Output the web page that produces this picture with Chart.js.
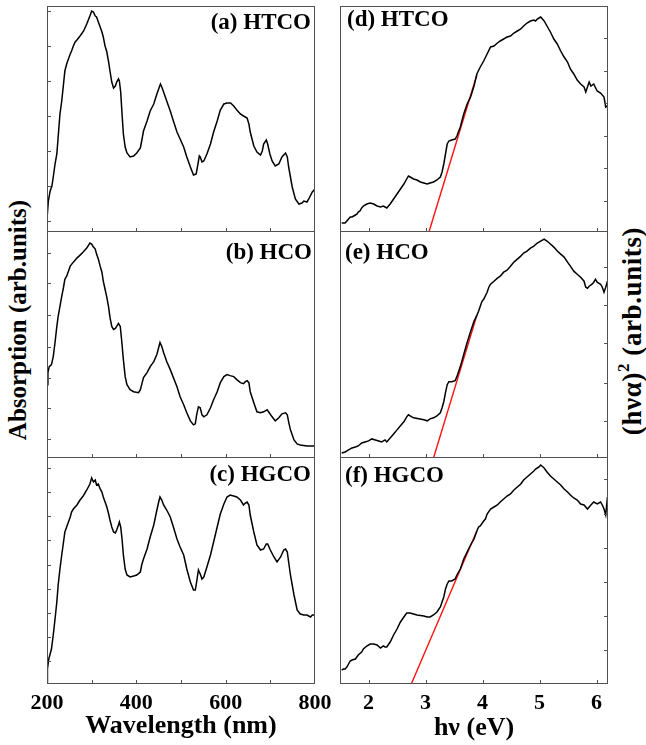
<!DOCTYPE html>
<html>
<head>
<meta charset="utf-8">
<script src="https://cdn.jsdelivr.net/npm/chart.js@4.4.0/dist/chart.umd.min.js"></script>
<style>
  body { margin: 0; background: #fff; }
  #wrap { position: relative; width: 646px; height: 745px; overflow: hidden; background: #fff; }
  #wrap canvas { position: absolute; left: 0; top: 0; }
  .yt {
    position: absolute;
    font: bold 25px "Liberation Serif", "Times New Roman", serif;
    white-space: nowrap;
    color: #000;
    transform: translate(-50%, -50%) rotate(-90deg);
  }
  .yt sup { font-size: 62%; vertical-align: 0.7em; line-height: 0; }
</style>
</head>
<body>
<div id="wrap">
  <div class="yt" style="left:18px; top:320px;">Absorption (arb.units)</div>
  <div class="yt" style="left:632px; top:331px; font-size:27px; letter-spacing:0.6px;">(hνα)<sup>2</sup> (arb.units)</div>
  <canvas id="pa" width="646" height="745"></canvas>
  <canvas id="pb" width="646" height="745"></canvas>
  <canvas id="pc" width="646" height="745"></canvas>
  <canvas id="pd" width="646" height="745"></canvas>
  <canvas id="pe" width="646" height="745"></canvas>
  <canvas id="pf" width="646" height="745"></canvas>
</div>
<script>
// ---- data (y in arbitrary units) ----
const wlA = [200,203,207,211,214,218,222,225,229,233,237,240,244,248,252,255,259,263,267,274,282,289,296,300,304,308,311,315,319,323,326,330,334,338,341,345,349,353,356,360,362,365,368,371,375,379,386,394,401,409,412,416,424,431,439,446,454,457,461,468,476,483,491,498,506,513,521,528,534,538,541,543,547,551,558,566,573,581,588,596,603,611,618,625,633,640,648,652,655,663,670,678,682,685,691,694,699,704,711,719,726,734,738,741,745,749,756,764,771,775,782,786,794,800];
const absA = [13,31,41,46,55,68,78,95,118,131,148,161,168,173,178,181,186,190,192,196,201,208,216,221,220,216,215,210,205,200,195,186,180,170,161,150,144,146,150,153,151,140,118,98,85,79,75,76,79,84,91,101,111,121,128,138,148,145,140,131,121,111,100,93,85,75,65,57,58,68,76,75,70,71,78,88,100,111,122,128,129,129,126,122,118,116,114,108,100,86,80,77,81,88,92,88,78,71,66,68,75,79,75,65,55,45,33,28,29,31,30,33,40,43];

const wlB = [200,202,205,210,214,218,222,225,229,233,237,240,244,248,252,259,267,274,281,289,296,300,304,308,311,315,319,323,326,330,334,338,341,345,349,353,356,360,364,367,371,375,379,386,394,405,409,412,416,424,431,439,446,450,453,457,461,468,476,483,491,498,506,513,521,528,532,535,539,543,547,551,558,566,573,581,588,596,603,610,618,625,633,640,644,648,652,655,663,670,678,685,693,696,704,711,719,726,734,738,741,745,753,760,767,782,800];
const absB = [73,85,91,93,101,115,131,141,151,161,170,178,181,186,191,195,199,202,205,209,214,213,210,208,203,198,191,185,176,168,160,150,140,131,128,129,131,134,131,118,98,81,73,68,66,65,68,73,80,85,91,96,103,110,115,111,105,96,88,80,71,61,53,45,37,33,34,43,51,50,43,41,43,50,58,66,75,81,83,82,81,78,75,74,76,77,75,66,55,46,45,46,48,46,41,37,40,44,45,43,36,28,18,14,13,12,12];

const wlC = [200,201,204,207,210,214,218,222,225,229,233,237,240,244,248,252,255,259,267,274,281,289,296,300,304,308,311,315,319,323,326,330,334,338,341,345,349,353,356,360,362,365,368,371,375,379,386,394,401,409,412,416,424,431,439,446,450,453,457,461,468,476,483,491,498,506,513,521,528,532,535,539,543,547,551,558,566,573,581,588,596,603,610,618,625,633,640,644,648,652,655,663,670,678,685,691,694,700,708,715,723,730,734,738,741,745,753,760,767,775,782,790,794,800];
const absC = [2,15,25,30,35,49,65,82,99,115,129,142,152,157,162,167,172,175,179,184,188,194,200,206,202,204,199,200,195,192,187,182,177,170,164,157,152,151,154,159,162,157,145,129,115,109,107,108,109,112,119,125,135,147,159,174,182,187,184,179,174,167,157,145,137,129,115,102,94,94,102,114,110,105,107,117,129,142,157,170,180,187,189,188,187,184,179,181,182,179,169,152,139,134,135,140,140,134,127,122,127,134,135,132,122,109,89,74,70,69,69,67,69,69];

const evD = [1.53,1.56,1.59,1.62,1.65,1.68,1.71,1.74,1.77,1.80,1.82,1.85,1.88,1.91,1.97,2.03,2.09,2.15,2.21,2.26,2.29,2.32,2.38,2.44,2.50,2.56,2.62,2.67,2.70,2.73,2.79,2.85,2.91,2.97,3.03,3.08,3.14,3.20,3.26,3.29,3.32,3.35,3.38,3.41,3.46,3.52,3.55,3.61,3.67,3.73,3.79,3.85,3.90,3.96,4.02,4.08,4.14,4.20,4.26,4.31,4.37,4.43,4.49,4.55,4.61,4.67,4.72,4.78,4.84,4.90,4.93,4.96,4.99,5.02,5.05,5.08,5.13,5.19,5.25,5.31,5.37,5.43,5.49,5.54,5.60,5.66,5.72,5.78,5.81,5.84,5.87,5.90,5.95,6.01,6.07,6.13,6.16,6.19];
const taucD = [9,9,9,11,13,15,15,16,17,18,20,21,24,26,28,29,28,26,25,26,25,24,28,33,38,43,48,53,56,55,53,52,50,49,48,49,50,52,55,60,68,78,88,91,92,93,96,105,118,128,135,146,158,165,171,178,185,186,189,191,193,195,196,199,201,203,206,209,211,212,211,213,214,215,213,211,206,200,193,188,181,175,170,163,158,152,148,145,140,145,150,146,148,141,139,135,125,126];

const evE = [1.53,1.59,1.65,1.71,1.77,1.82,1.88,1.94,2.00,2.06,2.12,2.18,2.23,2.29,2.32,2.38,2.44,2.50,2.56,2.62,2.67,2.70,2.73,2.79,2.88,2.97,3.03,3.08,3.14,3.20,3.26,3.29,3.32,3.35,3.38,3.41,3.46,3.52,3.55,3.61,3.67,3.73,3.79,3.85,3.90,3.93,3.96,3.99,4.02,4.08,4.11,4.14,4.20,4.26,4.31,4.37,4.43,4.49,4.55,4.61,4.67,4.72,4.78,4.84,4.90,4.96,5.02,5.08,5.13,5.19,5.25,5.31,5.37,5.43,5.49,5.54,5.60,5.66,5.72,5.78,5.81,5.84,5.87,5.92,5.95,5.98,6.01,6.07,6.10,6.13,6.16,6.19];
const taucE = [5,6,8,10,11,12,15,16,17,19,18,17,16,18,16,20,24,28,32,36,41,43,42,40,39,38,37,39,40,42,45,50,56,65,73,76,76,77,81,91,103,115,126,136,142,146,151,156,158,165,170,173,176,179,181,185,187,191,195,198,201,204,206,209,211,214,216,218,216,213,210,206,203,200,195,191,186,183,180,176,170,169,171,173,175,178,175,173,170,165,170,176];

const evF = [1.53,1.56,1.59,1.62,1.65,1.68,1.71,1.77,1.82,1.88,1.91,1.97,2.03,2.09,2.15,2.21,2.26,2.29,2.32,2.38,2.44,2.50,2.56,2.62,2.67,2.73,2.79,2.85,2.97,3.03,3.08,3.14,3.20,3.26,3.32,3.35,3.38,3.41,3.46,3.52,3.55,3.61,3.67,3.73,3.79,3.85,3.90,3.93,3.96,4.02,4.05,4.08,4.14,4.20,4.26,4.31,4.37,4.43,4.49,4.55,4.61,4.67,4.72,4.78,4.84,4.90,4.93,4.96,4.99,5.02,5.08,5.13,5.19,5.25,5.31,5.37,5.43,5.49,5.54,5.60,5.66,5.72,5.78,5.84,5.90,5.95,6.01,6.07,6.10,6.13,6.16,6.19];
const taucF = [14,15,15,17,20,23,24,25,29,32,35,38,40,40,39,36,38,37,37,42,49,55,62,67,71,71,70,69,68,67,67,69,72,77,87,95,100,103,103,105,109,115,125,132,139,145,153,157,158,163,165,170,175,177,179,182,185,188,190,194,197,200,204,207,210,213,215,216,217,219,216,212,208,205,202,199,195,192,189,186,184,180,179,175,179,182,180,182,179,175,169,187];

// linear band-gap fits (red lines)
const fitDx = [3.06, 3.90], fitDy = [0, 157];
const fitEx = [3.14, 3.90], fitEy = [0, 142];
const fitFx = [2.75, 3.90], fitFy = [0, 153];

// ticks
const wlTicks = [200, 300, 400, 500, 600, 700, 800];
const wlLabels = [200, 400, 600, 800];
const evTicks = [2, 3, 4, 5, 6];
const yTicksA = [11, 46, 81, 116, 151, 186, 221];
const yTicksB = [19, 50, 80, 111, 142, 174, 204];
const yTicksC = [23, 47, 71, 95, 119, 144, 168, 192, 216];
const yTicksD = [31, 64, 96, 129, 161, 194];
const yTicksE = [37, 75, 114, 152, 190];
const yTicksF = [34, 68, 102, 136, 170, 205];

const FONT = '"Liberation Serif", "Times New Roman", serif';
Chart.defaults.font.family = FONT;

// frame, inward ticks and panel label
function framePlugin(label, side, labelDx, labelDy) {
    return {
        id: 'frame',
        afterDraw(chart) {
            const {ctx, chartArea: {left, right, top, bottom}, scales: {x, y}} = chart;
            ctx.save();
            ctx.strokeStyle = '#505050';
            ctx.lineWidth = 1;
            ctx.strokeRect(left + 0.5, top + 0.5, right - left - 1, bottom - top - 1);
            ctx.beginPath();
            x.ticks.forEach(t => {
                const px = Math.round(x.getPixelForValue(t.value)) + 0.5;
                if (px < left + 2 || px > right - 2) return;
                ctx.moveTo(px, bottom);
                ctx.lineTo(px, bottom - 4);
            });
            y.ticks.forEach(t => {
                const py = Math.round(y.getPixelForValue(t.value)) + 0.5;
                if (side === 'left') {
                    ctx.moveTo(left, py);
                    ctx.lineTo(left + 4, py);
                } else {
                    ctx.moveTo(right, py);
                    ctx.lineTo(right - 4, py);
                }
            });
            ctx.stroke();

            ctx.fillStyle = '#000';
            ctx.font = 'bold 23px ' + FONT;
            ctx.textBaseline = 'middle';
            if (side === 'left') {
                ctx.textAlign = 'right';
                ctx.fillText(label, right - labelDx, top + labelDy);
            } else {
                ctx.textAlign = 'left';
                ctx.fillText(label, left + labelDx, top + labelDy);
            }
            ctx.restore();
        }
    };
}

function makePanel(p) {
    const datasets = [{
        data: p.x.map((v, i) => ({x: v, y: p.y[i]})),
        borderColor: '#000',
        borderWidth: 1.5,
        pointRadius: 0,
        tension: 0
    }];
    if (p.fitX) {
        datasets.push({
            data: p.fitX.map((v, i) => ({x: v, y: p.fitY[i]})),
            borderColor: '#ff1010',
            borderWidth: 1.4,
            pointRadius: 0
        });
    }
    const axisH = p.xTitle ? p.axisH : 0;

    new Chart(document.getElementById(p.id), {
        type: 'line',
        data: {datasets},
        options: {
            responsive: false,
            animation: false,
            events: [],
            devicePixelRatio: 1,
            layout: {
                padding: {left: p.box[0], top: p.box[1], right: 646 - p.box[2], bottom: 745 - p.box[3] - axisH}
            },
            plugins: {
                legend: {display: false},
                tooltip: {enabled: false}
            },
            scales: {
                x: {
                    type: 'linear',
                    min: p.xMin,
                    max: p.xMax,
                    afterBuildTicks: s => { s.ticks = p.xTicks.map(v => ({value: v})); },
                    afterFit: s => { s.height = axisH; },
                    grid: {display: false},
                    border: {display: false},
                    ticks: {
                        display: !!p.xTitle,
                        color: '#000',
                        padding: -2,
                        maxRotation: 0,
                        font: {size: 22, weight: 'bold'},
                        callback: v => p.xLabels.includes(v) ? String(v) : ''
                    },
                    title: {
                        display: !!p.xTitle,
                        text: p.xTitle || '',
                        color: '#000',
                        padding: {top: 0, bottom: 0},
                        font: {size: 26, weight: 'bold'}
                    }
                },
                y: {
                    type: 'linear',
                    position: p.side,
                    min: 0,
                    max: p.yMax,
                    afterBuildTicks: s => { s.ticks = p.yTicks.map(v => ({value: v})); },
                    afterFit: s => { s.width = 0; },
                    grid: {display: false},
                    border: {display: false},
                    ticks: {display: false}
                }
            }
        },
        plugins: [framePlugin(p.label, p.side, p.labelDx, p.labelDy)]
    });
}

makePanel({id: 'pa', box: [47, 6, 315, 232], x: wlA, y: absA, xMin: 200, xMax: 800, yMax: 226,
    xTicks: wlTicks, xLabels: wlLabels, yTicks: yTicksA, side: 'left', label: '(a) HTCO', labelDx: 4, labelDy: 17});
makePanel({id: 'pb', box: [47, 231, 315, 458], x: wlB, y: absB, xMin: 200, xMax: 800, yMax: 226,
    xTicks: wlTicks, xLabels: wlLabels, yTicks: yTicksB, side: 'left', label: '(b) HCO', labelDx: 3, labelDy: 22});
makePanel({id: 'pc', box: [47, 457, 315, 684], x: wlC, y: absC, xMin: 200, xMax: 800, yMax: 227,
    xTicks: wlTicks, xLabels: wlLabels, yTicks: yTicksC, side: 'left', label: '(c) HGCO', labelDx: 4, labelDy: 18,
    xTitle: 'Wavelength (nm)', axisH: 58});

makePanel({id: 'pd', box: [340, 6, 608, 232], x: evD, y: taucD, fitX: fitDx, fitY: fitDy, xMin: 1.5, xMax: 6.2, yMax: 226,
    xTicks: evTicks, xLabels: evTicks, yTicks: yTicksD, side: 'right', label: '(d) HTCO', labelDx: 7, labelDy: 14});
makePanel({id: 'pe', box: [340, 231, 608, 458], x: evE, y: taucE, fitX: fitEx, fitY: fitEy, xMin: 1.5, xMax: 6.2, yMax: 226,
    xTicks: evTicks, xLabels: evTicks, yTicks: yTicksE, side: 'right', label: '(e) HCO', labelDx: 5, labelDy: 22});
makePanel({id: 'pf', box: [340, 457, 608, 684], x: evF, y: taucF, fitX: fitFx, fitY: fitFy, xMin: 1.5, xMax: 6.2, yMax: 227,
    xTicks: evTicks, xLabels: evTicks, yTicks: yTicksF, side: 'right', label: '(f) HGCO', labelDx: 5, labelDy: 19,
    xTitle: 'hν (eV)', axisH: 60});
</script>
</body>
</html>
